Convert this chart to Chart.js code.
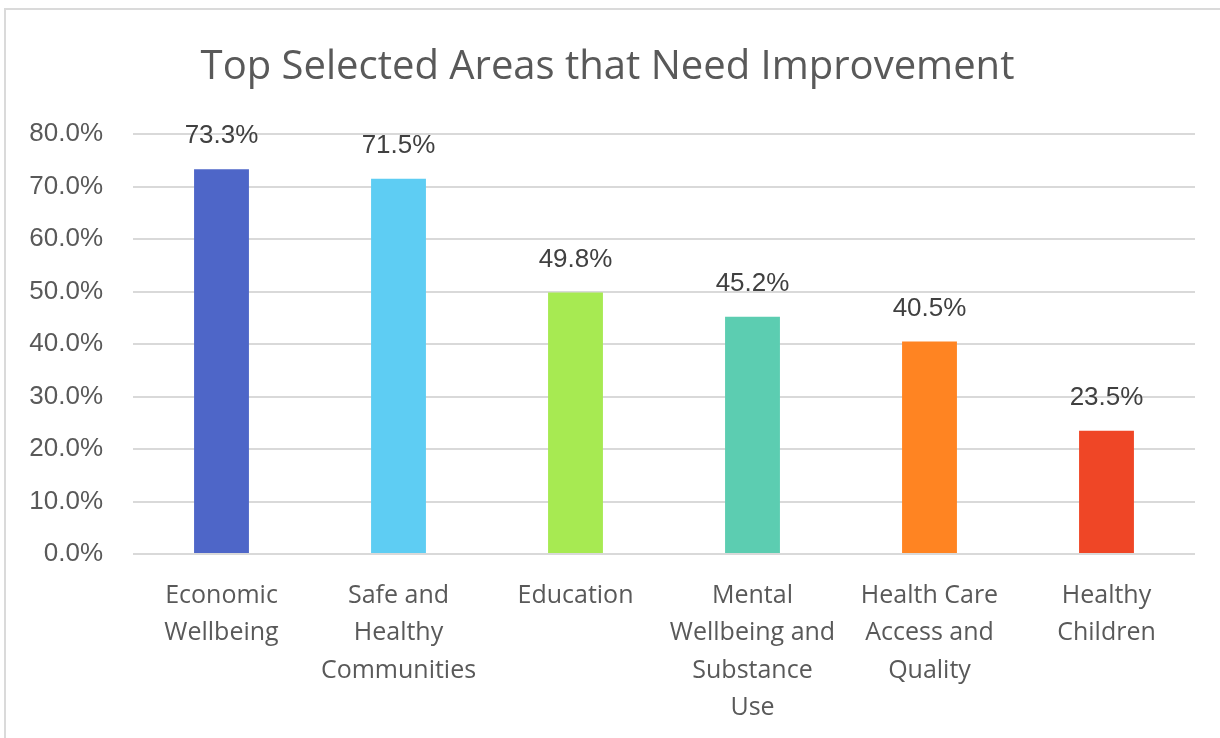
<!DOCTYPE html>
<html>
<head>
<meta charset="utf-8">
<script src="https://cdn.jsdelivr.net/npm/chart.js@4"></script>
<style>
  html, body { margin: 0; padding: 0; background: #fff; }
  #wrap { position: relative; width: 1220px; height: 738px; }
  #frame { position: absolute; left: 4px; top: 8px; right: 0; bottom: 0;
           border-top: 2px solid #dadada; border-left: 2px solid #dadada; }
  canvas { position: absolute; left: 0; top: 0; }
</style>
</head>
<body>
<div id="wrap">
  <div id="frame"></div>
  <canvas id="areasChart" width="1220" height="738"></canvas>
</div>
<script>
// Datos
const categories = [
  ["Economic", "Wellbeing"],
  ["Safe and", "Healthy", "Communities"],
  ["Education"],
  ["Mental", "Wellbeing and", "Substance", "Use"],
  ["Health Care", "Access and", "Quality"],
  ["Healthy", "Children"]
];
const percentages = [73.3, 71.5, 49.8, 45.2, 40.5, 23.5];
const barColors = ["#4e66c8", "#5ecdf3", "#a7ea52", "#5ccdb1", "#ff8422", "#ef4626"];
const yTicks = [0, 10, 20, 30, 40, 50, 60, 70, 80];

// Etiquetas de valor encima de cada barra
const valueLabels = {
  id: 'valueLabels',
  afterDatasetsDraw(chart) {
    const ctx = chart.ctx;
    const meta = chart.getDatasetMeta(0);
    ctx.save();
    ctx.font = '26px "Liberation Sans", Arial, sans-serif';
    ctx.fillStyle = '#404040';
    ctx.textAlign = 'center';
    ctx.textBaseline = 'middle';
    meta.data.forEach(function (bar, i) {
      ctx.fillText(percentages[i].toFixed(1) + '%', bar.x, bar.y - 33);
    });
    ctx.restore();
  }
};

const ctx = document.getElementById('areasChart').getContext('2d');
new Chart(ctx, {
  type: 'bar',
  data: {
    labels: categories,
    datasets: [{
      data: percentages,
      backgroundColor: barColors,
      borderWidth: 0,
      barPercentage: 0.31,
      categoryPercentage: 1
    }]
  },
  options: {
    responsive: false,
    animation: false,
    layout: { padding: { left: 20, right: 25, top: 21, bottom: -12 } },
    plugins: {
      legend: { display: false },
      tooltip: { enabled: false },
      title: {
        display: true,
        text: 'Top Selected Areas that Need Improvement',
        color: '#595959',
        font: { family: '"Open Sans", sans-serif', size: 40, weight: 'normal' },
        padding: { top: 23, bottom: 42 }
      }
    },
    scales: {
      x: {
        grid: { display: false, drawTicks: false },
        border: { display: false },
        ticks: {
          color: '#595959',
          font: { family: '"Open Sans", sans-serif', size: 25, lineHeight: 1.5 },
          padding: 23,
          maxRotation: 0,
          autoSkip: false
        }
      },
      y: {
        min: 0,
        max: 80,
        afterBuildTicks: function (axis) {
          axis.ticks = yTicks.map(function (v) { return { value: v }; });
        },
        afterFit: function (axis) { axis.width = 113; },
        grid: { color: '#d9d9d9', lineWidth: 2, drawTicks: false },
        border: { display: false },
        ticks: {
          color: '#595959',
          font: { family: '"Liberation Sans", Arial, sans-serif', size: 26 },
          padding: 30,
          callback: function (v) { return v.toFixed(1) + '%'; }
        }
      }
    }
  },
  plugins: [valueLabels]
});
</script>
</body>
</html>
